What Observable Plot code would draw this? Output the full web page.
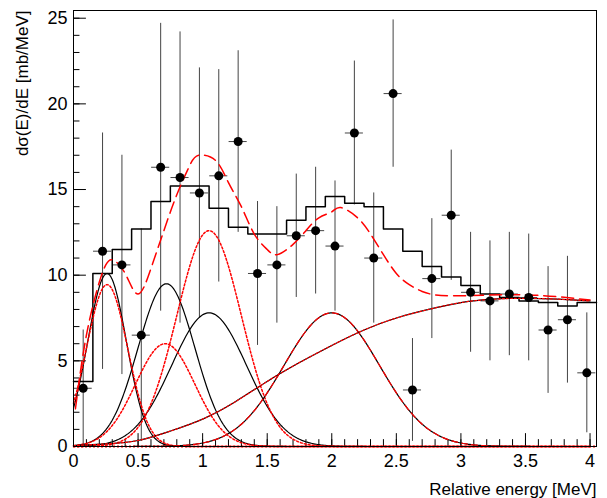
<!DOCTYPE html>
<html><head><meta charset="utf-8">
<script src="https://cdn.jsdelivr.net/npm/d3@7"></script>
<script src="https://cdn.jsdelivr.net/npm/@observablehq/plot@0.6"></script>
<style>body{margin:0;background:#fff}</style>
</head><body><div id="chart"></div>
<script>
// data points (bin centres, values, errors)
const px = [0.075,0.225,0.375,0.525,0.675,0.825,0.975,1.125,1.275,1.425,1.575,1.725,1.875,2.025,2.175,2.325,2.475,2.625,2.775,2.925,3.075,3.225,3.375,3.525,3.675,3.825,3.975];
const py = [3.4,11.4,10.6,6.5,16.3,15.7,14.8,15.8,17.8,10.1,10.6,12.3,12.6,11.7,18.3,11.0,20.6,3.3,9.8,13.5,9.0,8.5,8.9,8.7,6.8,7.4,4.3];
const pe = [3.4,6.9,6.4,6.2,8.4,8.5,7.3,6.2,5.3,4.2,3.4,3.6,3.7,3.8,4.2,3.8,4.3,3.0,3.5,3.8,3.5,3.5,3.6,3.7,3.7,3.7,3.5];
// histogram (bin width 0.15)
const hEdges = [0,0.15,0.3,0.45,0.6,0.75,0.9,1.05,1.2,1.35,1.5,1.65,1.8,1.95,2.1,2.25,2.4,2.55,2.7,2.85,3.0,3.15,3.3,3.45,3.6,3.75,3.9,4.05];
const hVals = [3.8,10.1,11.5,12.7,14.3,15.2,15.2,13.9,12.8,12.4,12.4,13.2,14.0,14.6,14.2,14.0,12.7,11.4,10.5,9.9,9.4,8.9,8.7,8.5,8.4,8.2,8.4];
// total fit (red dashed)
const tX = [0.015,0.1,0.2,0.25,0.3,0.4,0.5,0.6,0.7,0.8,0.9,0.97,1.1,1.2,1.3,1.4,1.5,1.58,1.7,1.8,1.9,2.0,2.07,2.2,2.3,2.4,2.5,2.6,2.7,2.8,3.0,3.5,4.0];
const tY = [2.2,6.5,9.6,10.6,10.9,10.1,8.9,10.4,12.6,14.7,16.4,17.0,16.7,15.4,14.0,12.4,11.5,11.2,11.8,12.6,13.35,13.7,13.95,13.35,12.4,11.2,10.1,9.45,9.05,8.85,8.8,8.85,8.55];
// broad component
const bX = [0,0.25,0.5,0.75,1.0,1.25,1.5,1.75,2.0,2.25,2.5,2.75,3.0,3.25,3.5,3.75,4.0];
const bY = [0.05,0.15,0.35,0.9,1.6,2.6,3.8,4.9,5.9,6.8,7.5,8.0,8.4,8.6,8.65,8.6,8.5];
// gaussian components: amplitude, mean, sigma
const blackG = [[10.1,0.26,0.15],[9.5,0.72,0.22],[7.8,1.05,0.29]];
const redG = [[9.45,0.26,0.16],[6.0,0.71,0.23],[12.6,1.05,0.25]];
const g4 = [7.8,2.0,0.37];

const grid = d3.range(0, 4.0001, 0.01);
const gauss = ([a,m,s]) => grid.map(x => ({x, y: a*Math.exp(-((x-m)**2)/(2*s*s))}));

const pts = px.map((x,i) => ({x, y: py[i], lo: Math.max(0, py[i]-pe[i]), hi: py[i]+pe[i]}));
const hist = hVals.map((v,i) => ({x: hEdges[i], y: v})).concat([{x: hEdges[hEdges.length-1], y: hVals[hVals.length-1]}]);
const total = tX.map((x,i) => ({x, y: tY[i]}));
const broad = bX.map((x,i) => ({x, y: bY[i]}));

const xMaj = d3.range(0, 4.01, 0.5), xMin = d3.range(0, 4.05, 0.1);
const yMaj = d3.range(0, 26, 5), yMin = d3.range(0, 26, 1);

const marks = [
  Plot.ruleY([0], {stroke: "red", strokeWidth: 2, strokeDasharray: "2,2"}),
  Plot.ruleX(xMaj, {y1: 0, y2: 0.75, stroke: "#000"}),
  Plot.ruleX(xMin, {y1: 0, y2: 0.4, stroke: "#000"}),
  Plot.ruleY(yMaj, {x1: 0, x2: 0.1, stroke: "#000"}),
  Plot.ruleY(yMin, {x1: 0, x2: 0.05, stroke: "#000"}),
  Plot.ruleX(pts, {x: "x", y1: "lo", y2: "hi", stroke: "#444"}),
  Plot.ruleY(pts, {y: "y", x1: d => d.x-0.07, x2: d => d.x+0.07, stroke: "#444"}),
  Plot.line(hist, {x: "x", y: "y", curve: "step-after", stroke: "#000", strokeWidth: 1.5}),
  ...blackG.map(p => Plot.line(gauss(p), {x: "x", y: "y", stroke: "#000", strokeWidth: 1.2})),
  ...redG.map(p => Plot.line(gauss(p), {x: "x", y: "y", stroke: "red", strokeWidth: 1.5, strokeDasharray: "2,2"})),
  Plot.line(gauss(g4), {x: "x", y: "y", stroke: "#000", strokeWidth: 1.2}),
  Plot.line(gauss(g4), {x: "x", y: "y", stroke: "red", strokeWidth: 1.2, strokeDasharray: "6,4"}),
  Plot.line(broad, {x: "x", y: "y", curve: "natural", stroke: "#000", strokeWidth: 1.2}),
  Plot.line(broad, {x: "x", y: "y", curve: "natural", stroke: "red", strokeWidth: 1.2, strokeDasharray: "2,2"}),
  Plot.line(total, {x: "x", y: "y", curve: "natural", stroke: "red", strokeWidth: 1.5, strokeDasharray: "12,6"}),
  Plot.dot(pts, {x: "x", y: "y", r: 4.5, fill: "#000"}),
  Plot.frame({stroke: "#000"}),
  Plot.axisX(xMaj, {tickSize: 0, tickPadding: 8, fontSize: 18, label: null, tickFormat: d => String(d)}),
  Plot.axisY(yMaj, {tickSize: 0, tickPadding: 6, fontSize: 18, label: null}),
  Plot.text(["Relative energy [MeV]"], {frameAnchor: "bottom-right", dy: 48, fontSize: 17, textAnchor: "end"}),
  Plot.text(["dσ(E)/dE [mb/MeV]"], {frameAnchor: "top-left", dx: -58, dy: 0, rotate: -90, fontSize: 17, textAnchor: "end"})
];

const chart = Plot.plot({
  width: 607, height: 498,
  marginLeft: 73, marginRight: 11, marginTop: 10, marginBottom: 52,
  style: {fontFamily: "Liberation Sans, Arial, sans-serif", color: "#000", background: "#fff"},
  x: {domain: [0, 4.05]},
  y: {domain: [0, 25.45]},
  marks
});
d3.select('#chart').append(() => chart);
</script></body></html>
